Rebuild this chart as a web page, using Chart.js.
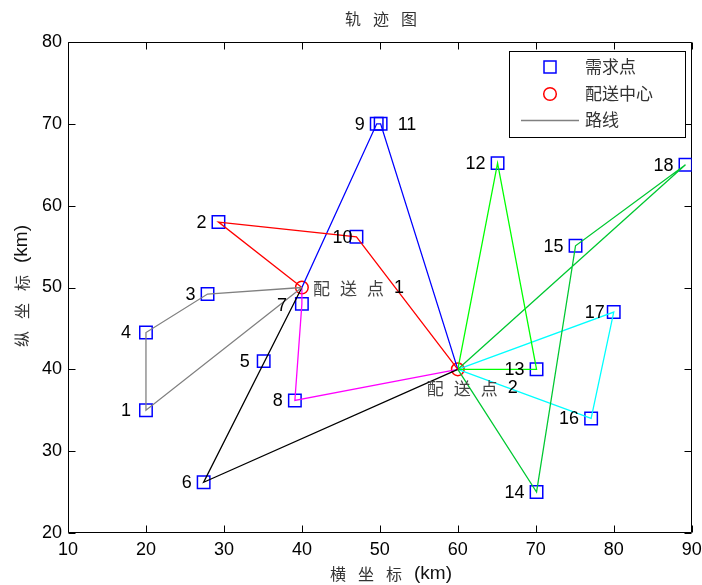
<!DOCTYPE html>
<html>
<head>
<meta charset="utf-8">
<script src="https://cdn.jsdelivr.net/npm/chart.js@4.4.0/dist/chart.umd.min.js"></script>
<style>
  body { margin: 0; background: #fff; }
  #wrap { width: 702px; height: 585px; }
</style>
</head>
<body>
<div id="wrap"><canvas id="chart" width="702" height="585"></canvas></div>
<script>
// demand points 1..18, coordinates in km
const pointX = [20, 29.3, 27.9, 20, 35.1, 27.4, 40, 39.1, 49.6, 47, 50.1, 65.1, 70.1, 70.1, 75.1, 77.1, 80, 89.2];
const pointY = [35, 58, 49.2, 44.5, 41, 26.2, 48, 36.2, 70, 56.2, 70, 65.2, 40, 25, 55.1, 34, 47, 65];
// distribution centres (配送点 1, 配送点 2)
const depotX = [40, 60];
const depotY = [50, 40];
const xTicks = [10, 20, 30, 40, 50, 60, 70, 80, 90];
const yTicks = [20, 30, 40, 50, 60, 70, 80];

// routes: 'A' = 配送点1, 'B' = 配送点2, numbers = demand point
const routeGray = ['A', 3, 4, 1, 'A'];
const routeRed = ['A', 2, 10, 'B'];
const routeBlue = ['A', 9, 11, 'B'];
const routeBlack = ['A', 6, 'B'];
const routeMagenta = ['A', 7, 8, 'B'];
const routeLime = ['B', 12, 13, 'B'];
const routeGreen = ['B', 14, 15, 18, 'B'];
const routeCyan = ['B', 17, 16, 'B'];

const CJK = '"Noto Sans CJK SC"';
const NUM = '"Liberation Sans", Arial, sans-serif';

function nodeXY(n) {
    if (n === 'A') return { x: depotX[0], y: depotY[0] };
    if (n === 'B') return { x: depotX[1], y: depotY[1] };
    return { x: pointX[n - 1], y: pointY[n - 1] };
}

function routeSet(route, color) {
    return {
        data: route.map(nodeXY),
        showLine: true,
        borderColor: color,
        borderWidth: 1.3,
        pointRadius: 0,
        tension: 0,
        order: 1
    };
}

// draw text made of runs of characters with extra spacing (matlab style)
function drawRuns(ctx, runs, x, y, align) {
    let w = 0, lastGap = 0;
    runs.forEach(r => {
        ctx.font = r.font;
        for (const ch of r.text) { w += ctx.measureText(ch).width + (r.gap || 0); lastGap = r.gap || 0; }
    });
    w -= lastGap;
    let cx = align === 'center' ? x - w / 2 : x;
    ctx.textAlign = 'left';
    ctx.textBaseline = 'middle';
    runs.forEach(r => {
        ctx.font = r.font;
        ctx.fillStyle = r.color;
        for (const ch of r.text) {
            ctx.fillText(ch, cx, y);
            cx += ctx.measureText(ch).width + (r.gap || 0);
        }
    });
}

// axes box with inward ticks on all four sides
const framePlugin = {
    id: 'frame',
    beforeDatasetsDraw(chart) {
        const { ctx, chartArea: a, scales } = chart;
        const L = Math.round(a.left) + 0.5, R = Math.round(a.right) - 0.5;
        const T = Math.round(a.top) + 0.5, B = Math.round(a.bottom) - 0.5;
        ctx.save();
        ctx.strokeStyle = '#000';
        ctx.lineWidth = 1;
        ctx.beginPath();
        ctx.rect(L, T, R - L, B - T);
        xTicks.forEach(v => {
            const px = Math.round(scales.x.getPixelForValue(v)) + 0.5;
            ctx.moveTo(px, B); ctx.lineTo(px, B - 7);
            ctx.moveTo(px, T); ctx.lineTo(px, T + 7);
        });
        yTicks.forEach(v => {
            const py = Math.round(scales.y.getPixelForValue(v)) + 0.5;
            ctx.moveTo(L, py); ctx.lineTo(L + 7, py);
            ctx.moveTo(R, py); ctx.lineTo(R - 7, py);
        });
        ctx.stroke();
        ctx.restore();
    }
};

// label offsets for the point numbers (px, right aligned)
const labelDx = { 1: -15, 4: -15, 5: -14, 7: -15, 10: -4, 17: -9 };

const textPlugin = {
    id: 'texts',
    afterDraw(chart) {
        const { ctx } = chart;
        ctx.save();

        // title and axis titles
        drawRuns(ctx, [{ text: '轨迹图', font: '16px ' + CJK, color: '#333', gap: 12 }], 381, 19, 'center');
        drawRuns(ctx, [
            { text: '横坐标', font: '16px ' + CJK, color: '#333', gap: 12 },
            { text: '(km)', font: '19px ' + NUM, color: '#111', gap: 0 }
        ], 391, 574, 'center');
        ctx.save();
        ctx.translate(22, 286);
        ctx.rotate(-Math.PI / 2);
        drawRuns(ctx, [
            { text: '纵坐标', font: '16px ' + CJK, color: '#333', gap: 12 },
            { text: '(km)', font: '19px ' + NUM, color: '#111', gap: 0 }
        ], 0, 0, 'center');
        ctx.restore();

        // point numbers
        const meta = chart.getDatasetMeta(0);
        ctx.font = '18px ' + NUM;
        ctx.fillStyle = '#000';
        ctx.textBaseline = 'middle';
        meta.data.forEach((el, i) => {
            const id = i + 1;
            if (id === 11) {
                ctx.textAlign = 'left';
                ctx.fillText(String(id), el.x + 17, el.y + 1);
            } else {
                ctx.textAlign = 'right';
                ctx.fillText(String(id), el.x + (labelDx[id] || -12), el.y + (id === 7 ? 2 : 1));
            }
        });

        // depot captions
        const dm = chart.getDatasetMeta(1).data;
        drawRuns(ctx, [
            { text: '配送点', font: '17px ' + CJK, color: '#444', gap: 10 },
            { text: '1', font: '18px ' + NUM, color: '#000', gap: 0 }
        ], dm[0].x + 11, dm[0].y + 1, 'left');
        drawRuns(ctx, [
            { text: '配送点', font: '17px ' + CJK, color: '#444', gap: 10 },
            { text: '2', font: '18px ' + NUM, color: '#000', gap: 0 }
        ], dm[1].x - 31, dm[1].y + 19, 'left');

        // legend
        ctx.fillStyle = '#fff';
        ctx.fillRect(509.5, 51.5, 176, 86);
        ctx.strokeStyle = '#000';
        ctx.lineWidth = 1;
        ctx.strokeRect(509.5, 51.5, 176, 86);
        ctx.strokeStyle = '#0000ff';
        ctx.lineWidth = 1.5;
        ctx.strokeRect(544, 61, 12, 12);
        ctx.strokeStyle = '#ff0000';
        ctx.beginPath();
        ctx.arc(550, 94, 6.3, 0, Math.PI * 2);
        ctx.stroke();
        ctx.strokeStyle = '#808080';
        ctx.lineWidth = 1.3;
        ctx.beginPath();
        ctx.moveTo(521, 120.5);
        ctx.lineTo(579, 120.5);
        ctx.stroke();
        ctx.font = '17px ' + CJK;
        ctx.fillStyle = '#333';
        ctx.textAlign = 'left';
        ctx.textBaseline = 'middle';
        ctx.fillText('需求点', 585, 67);
        ctx.fillText('配送中心', 585, 94);
        ctx.fillText('路线', 585, 120);

        ctx.restore();
    }
};

const tickFont = { family: 'Liberation Sans', size: 18 };

new Chart(document.getElementById('chart'), {
    type: 'scatter',
    data: {
        datasets: [
            {
                data: pointX.map((x, i) => ({ x: x, y: pointY[i] })),
                pointStyle: 'rect',
                pointRadius: 8.8,
                borderColor: '#0000ff',
                backgroundColor: 'rgba(0,0,0,0)',
                borderWidth: 1.5,
                order: 2
            },
            {
                data: depotX.map((x, i) => ({ x: x, y: depotY[i] })),
                pointStyle: 'circle',
                pointRadius: 6.3,
                borderColor: '#ff0000',
                backgroundColor: 'rgba(0,0,0,0)',
                borderWidth: 1.5,
                order: 2
            },
            routeSet(routeGray, '#808080'),
            routeSet(routeRed, '#ff0000'),
            routeSet(routeBlue, '#0000ff'),
            routeSet(routeBlack, '#000000'),
            routeSet(routeMagenta, '#ff00ff'),
            routeSet(routeLime, '#00ff00'),
            routeSet(routeGreen, '#00c832'),
            routeSet(routeCyan, '#00ffff')
        ]
    },
    options: {
        responsive: false,
        animation: false,
        events: [],
        layout: { padding: { top: 42, right: 9, left: 0, bottom: 0 } },
        plugins: { legend: { display: false }, tooltip: { enabled: false }, title: { display: false } },
        scales: {
            x: {
                type: 'linear',
                min: 10,
                max: 90,
                afterBuildTicks: s => { s.ticks = xTicks.map(v => ({ value: v })); },
                afterFit: s => { s.height = 52; s.paddingLeft = 0; s.paddingRight = 0; },
                grid: { display: false, drawTicks: false },
                border: { display: false },
                ticks: { font: tickFont, color: '#000', padding: 6, autoSkip: false, maxRotation: 0 }
            },
            y: {
                type: 'linear',
                min: 20,
                max: 80,
                afterBuildTicks: s => { s.ticks = yTicks.map(v => ({ value: v })); },
                afterFit: s => { s.width = 68; s.paddingTop = 0; s.paddingBottom = 0; },
                grid: { display: false, drawTicks: false },
                border: { display: false },
                ticks: { font: tickFont, color: '#000', padding: 6, autoSkip: false }
            }
        }
    },
    plugins: [framePlugin, textPlugin]
});
</script>
</body>
</html>
